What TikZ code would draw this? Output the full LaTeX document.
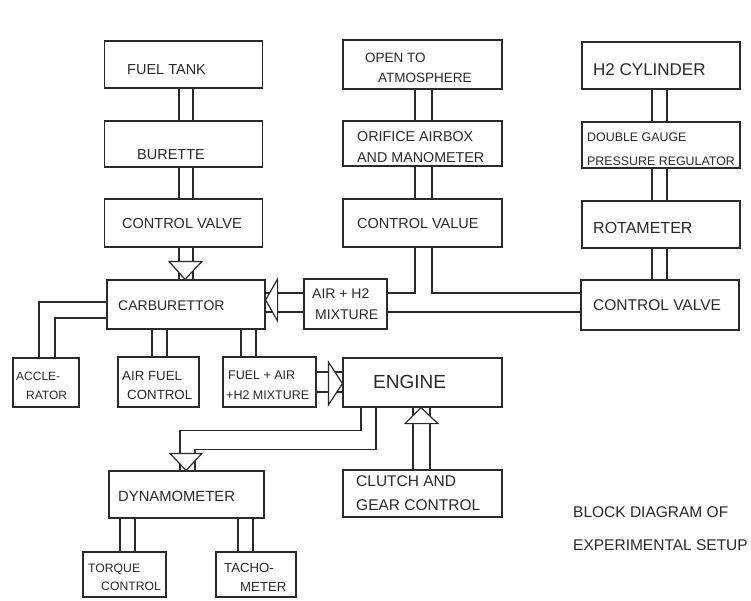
\documentclass[tikz,border=0pt]{standalone}
\usepackage{fontspec}
\setmainfont{Liberation Sans}
\usetikzlibrary{calc}
\definecolor{ink}{HTML}{2A2A2A}
\begin{document}
\begin{tikzpicture}[x=1pt,y=-1pt]
\tikzset{
  blk/.style={draw=ink, line width=1.2pt, minimum width=158pt, minimum height=47pt, inner sep=0pt},
  txt/.style={text=ink, align=left, anchor=west, inner sep=0pt},
  fs/.style={font=\fontsize{#1}{21}\selectfont},
  pipe/.style={draw=ink, line width=1.2pt},
  head/.style={draw=ink, fill=white, line width=1.2pt, line join=miter}
}
\useasboundingbox[fill=white] (0,0) rectangle (751,600);

% ---------- boxes ----------
\node[blk] (tank) at (183.5,64.5) {};
\node[blk, minimum height=46pt] (burette) at (183.5,144) {};
\node[blk, minimum height=48pt] (cv1) at (183.5,223) {};
\node[blk, minimum height=49pt] (carb) at (186,304.5) {};

\node[blk, minimum width=159pt, minimum height=49pt] (open) at (422.5,64.5) {};
\node[blk, minimum width=159pt, minimum height=45pt] (orifice) at (422.5,143.5) {};
\node[blk, minimum width=159pt, minimum height=48pt] (cv2) at (422.5,223) {};

\node[blk] (h2) at (661,65.5) {};
\node[blk, minimum height=46pt] (gauge) at (661,145) {};
\node[blk] (rota) at (661,224.5) {};
\node[blk, minimum height=50pt] (cv3) at (660,305) {};

\node[blk, minimum width=83pt, minimum height=50pt] (mix) at (345.5,304) {};
\node[blk, minimum width=66pt, minimum height=49pt] (acc) at (46,382.5) {};
\node[blk, minimum width=81pt, minimum height=50pt] (afc) at (158.5,382) {};
\node[blk, minimum width=93pt, minimum height=50pt] (fam) at (269.5,382) {};

\node[blk, minimum width=159pt, minimum height=49pt] (engine) at (422.5,382.5) {};
\node[blk, minimum width=159pt] (clutch) at (422.5,493.5) {};
\node[blk, minimum width=155pt] (dyn) at (186.5,494.5) {};
\node[blk, minimum width=83pt, minimum height=45pt] (torque) at (124.5,574.5) {};
\node[blk, minimum width=80pt, minimum height=45pt] (tacho) at (256,574.5) {};

% ---------- texts ----------
\node[txt, fs=14.5] (tankT) at (127,70) {FUEL TANK};
\node[txt, fs=14.5] (buretteT) at (137,155) {BURETTE};
\node[txt, fs=14.5] (cv1T) at (122,224) {CONTROL VALVE};
\node[txt, font=\fontsize{13.5}{20}\selectfont] (openT) at (365,68) {OPEN TO\\\hspace*{13pt}ATMOSPHERE};
\node[txt, fs=14.3] (orificeT) at (357,147.5) {ORIFICE AIRBOX\\AND MANOMETER};
\node[txt, fs=14.5] (cv2T) at (357,224) {CONTROL VALUE};
\node[txt, fs=17] (h2T) at (593,70) {H2 CYLINDER};
\node[txt, font=\fontsize{12.4}{24}\selectfont] (gaugeT) at (587,149) {DOUBLE GAUGE\\PRESSURE REGULATOR};
\node[txt, fs=16] (rotaT) at (593,228) {ROTAMETER};
\node[txt, fs=15.5] (cv3T) at (593,305) {CONTROL VALVE};
\node[txt, fs=14] (carbT) at (118,306) {CARBURETTOR};
\node[txt, fs=14] (mixT) at (312,304.5) {AIR + H2\\\hspace*{3pt}MIXTURE};
\node[txt, font=\fontsize{12}{19}\selectfont] (accT) at (16,385.5) {ACCLE-\\\hspace*{10pt}RATOR};
\node[txt, font=\fontsize{13.3}{19}\selectfont] (afcT) at (122,385.5) {AIR FUEL\\\hspace*{5pt}CONTROL};
\node[txt, font=\fontsize{12.5}{20}\selectfont] (famT) at (226,385) {\hspace*{2pt}FUEL + AIR\\+H2 MIXTURE};
\node[txt, fs=19] (engineT) at (373,382) {ENGINE};
\node[txt, font=\fontsize{15.5}{24}\selectfont] (clutchT) at (356,493) {CLUTCH AND\\GEAR CONTROL};
\node[txt, fs=14.8] (dynT) at (118,496) {DYNAMOMETER};
\node[txt, font=\fontsize{12.2}{18}\selectfont] (torqueT) at (88,577) {TORQUE\\\hspace*{13pt}CONTROL};
\node[txt, font=\fontsize{13.2}{19}\selectfont] (tachoT) at (224,577.5) {TACHO-\\\hspace*{16pt}METER};

\node[txt, font=\fontsize{15.5}{33}\selectfont] (title) at (573,528.5) {BLOCK DIAGRAM OF\\EXPERIMENTAL SETUP};

% ---------- connectors ----------
\foreach \x in {179,193} {
  \draw[pipe] (tank.south -| \x,0) -- (burette.north -| \x,0);
  \draw[pipe] (burette.south -| \x,0) -- (cv1.north -| \x,0);
  \draw[pipe] (cv1.south -| \x,0) -- (carb.north -| \x,0);
}
\draw[head] (carb.north -| 185,0) -- ++(-16,-18) -- ++(33,0) -- cycle;

\foreach \x in {415,432} {
  \draw[pipe] (open.south -| \x,0) -- (orifice.north -| \x,0);
  \draw[pipe] (orifice.south -| \x,0) -- (cv2.north -| \x,0);
}

\foreach \x in {652,667} {
  \draw[pipe] (h2.south -| \x,0) -- (gauge.north -| \x,0);
  \draw[pipe] (gauge.south -| \x,0) -- (rota.north -| \x,0);
  \draw[pipe] (rota.south -| \x,0) -- (cv3.north -| \x,0);
}

\draw[pipe] (cv2.south -| 415,0) |- (mix.east |- 0,293);
\draw[pipe] (cv2.south -| 432,0) |- (cv3.west |- 0,293);
\draw[pipe] (mix.east |- 0,312) -- (cv3.west |- 0,312);

\foreach \y in {293,312} {
  \draw[pipe] (mix.west |- 0,\y) -- (carb.east |- 0,\y);
}
\draw[head] (carb.east |- 0,300) -- ++(12,-21) -- ++(0,42) -- cycle;

\draw[pipe] (acc.north -| 39,0) |- (carb.west |- 0,302);
\draw[pipe] (acc.north -| 55,0) |- (carb.west |- 0,318);

\foreach \x in {152,167} {
  \draw[pipe] (carb.south -| \x,0) -- (afc.north -| \x,0);
}
\foreach \x in {241,256} {
  \draw[pipe] (carb.south -| \x,0) -- (fam.north -| \x,0);
}

\foreach \y in {372,392} {
  \draw[pipe] (fam.east |- 0,\y) -- (engine.west |- 0,\y);
}
\draw[head] (engine.west |- 0,383.5) -- ++(-14,-21.5) -- ++(0,43) -- cycle;

\foreach \x in {413,430} {
  \draw[pipe] (clutch.north -| \x,0) -- (engine.south -| \x,0);
}
\draw[head] (engine.south -| 421,0) -- ++(-16,16) -- ++(33,0) -- cycle;

\draw[pipe] (engine.south -| 361,0) -- ++(0,23) -| (dyn.north -| 180,0);
\draw[pipe] (engine.south -| 376,0) -- ++(0,42) -| (dyn.north -| 195,0);
\draw[head] (dyn.north -| 186,0) -- ++(-16,-17) -- ++(32,0) -- cycle;

\foreach \x in {120,135} {
  \draw[pipe] (dyn.south -| \x,0) -- (torque.north -| \x,0);
}
\foreach \x in {238,253} {
  \draw[pipe] (dyn.south -| \x,0) -- (tacho.north -| \x,0);
}
\end{tikzpicture}
\end{document}
